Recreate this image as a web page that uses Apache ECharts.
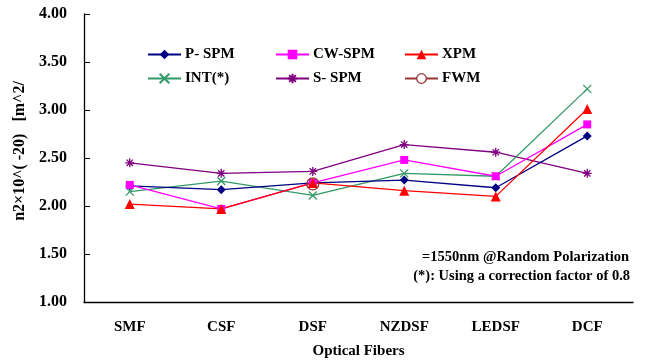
<!DOCTYPE html>
<html><head><meta charset="utf-8">
<script src="https://cdn.jsdelivr.net/npm/echarts@6/dist/echarts.min.js"></script>
<style>html,body{margin:0;padding:0;background:#fff}#c{width:647px;height:363px}</style>
</head><body><div id="c"></div>
<script>
var categories = ['SMF','CSF','DSF','NZDSF','LEDSF','DCF'];
var pSPM  = [2.21, 2.17, 2.24, 2.27, 2.19, 2.73];
var cwSPM = [2.22, 1.97, 2.24, 2.48, 2.31, 2.85];
var xpm   = [2.02, 1.97, 2.24, 2.16, 2.10, 3.01];
var intS  = [2.15, 2.26, 2.11, 2.34, 2.31, 3.22];
var sSPM  = [2.45, 2.34, 2.36, 2.64, 2.56, 2.34];
var fwm   = [null, null, 2.23, null, null, null];
var yTicks = [1.0, 1.5, 2.0, 2.5, 3.0, 3.5, 4.0];
var seriesNames = ['P- SPM','CW-SPM','XPM','INT(*)','S- SPM','FWM'];
var noteLines = ['=1550nm @Random Polarization','(*): Using a correction factor of 0.8'];

var FONT = '"Liberation Serif", "DejaVu Serif", serif';
var chart = echarts.init(document.getElementById('c'));
var xPath = 'path://M0,0L10,10M10,0L0,10';
var starPath = 'path://M5,0L5,10M0,5L10,5M1.5,1.5L8.5,8.5M8.5,1.5L1.5,8.5';

function mk(name, data, color, symbol, size, extra) {
  var s = {
    name: name, type: 'line', data: data, symbol: symbol, symbolSize: size,
    lineStyle: {color: color, width: 1.3},
    itemStyle: {color: color, borderColor: color, borderWidth: 0},
    emphasis: {disabled: true}, animation: false, connectNulls: false
  };
  if (extra) extra(s);
  return s;
}
var series = [
  mk(seriesNames[4], sSPM, '#800080', starPath, 9, function(s){ s.itemStyle.borderWidth = 1.3; }),
  mk(seriesNames[3], intS, '#339966', xPath, 8, function(s){ s.itemStyle.borderWidth = 1.3; }),
  mk(seriesNames[0], pSPM, '#000080', 'diamond', 9),
  mk(seriesNames[1], cwSPM, '#FF00FF', 'rect', 8),
  mk(seriesNames[2], xpm, '#FF0000', 'triangle', 10),
  mk(seriesNames[5], fwm, '#993333', 'circle', 12, function(s){ s.itemStyle.borderWidth = 1.3; s.itemStyle.color = 'rgba(255,255,255,0)'; s.showSymbol = true; })
];

function legendCol(left, items) {
  return {
    left: left, top: 42, orient: 'vertical', itemGap: 9, itemWidth: 33, itemHeight: 12,
    data: items, selectedMode: false,
    textStyle: {fontFamily: FONT, fontWeight: 'bold', fontSize: 15, color: '#000', padding: [0,0,0,-1]}
  };
}

chart.setOption({
  animation: false,
  grid: {left: 84, right: 14, top: 14, bottom: 61, containLabel: false, outerBoundsMode: 'none'},
  legend: [
    legendCol(142, [seriesNames[0], seriesNames[3]]),
    legendCol(270, [seriesNames[1], seriesNames[4]]),
    legendCol(399, [seriesNames[2], {name: seriesNames[5], itemStyle: {color: '#fff', borderColor: '#993333', borderWidth: 1.3}}])
  ],
  xAxis: {
    type: 'category', data: categories, boundaryGap: true,
    axisLine: {lineStyle: {color: '#000', width: 1.3}},
    axisTick: {inside: true, length: 6, lineStyle: {color: '#000'}},
    axisLabel: {fontFamily: FONT, fontWeight: 'bold', fontSize: 15, color: '#000', margin: 18},
    name: 'Optical Fibers', nameLocation: 'middle', nameGap: 42,
    nameTextStyle: {fontFamily: FONT, fontWeight: 'bold', fontSize: 15, color: '#000'}
  },
  yAxis: {
    type: 'value', min: yTicks[0], max: yTicks[yTicks.length-1], interval: 0.5,
    splitLine: {show: false},
    axisLine: {show: true, lineStyle: {color: '#000', width: 1.3}},
    axisTick: {show: true, inside: true, length: 6, lineStyle: {color: '#000'}},
    axisLabel: {fontFamily: FONT, fontWeight: 'bold', fontSize: 16, color: '#000', margin: 17,
      formatter: function(v){ return v.toFixed(2); }},
    name: 'n2×10^( -20)   [m^2/', nameLocation: 'middle', nameGap: 51,
    nameTextStyle: {fontFamily: FONT, fontWeight: 'bold', fontSize: 16, color: '#000', padding: [0, 0, 0, 14]}
  },
  graphic: [
    {type: 'text', right: 18, top: 250, style: {text: noteLines[0], font: 'bold 14.5px ' + FONT, fill: '#000'}},
    {type: 'text', right: 17, top: 269, style: {text: noteLines[1], font: 'bold 14.5px ' + FONT, fill: '#000'}}
  ],
  series: series
});
</script>
</body></html>
